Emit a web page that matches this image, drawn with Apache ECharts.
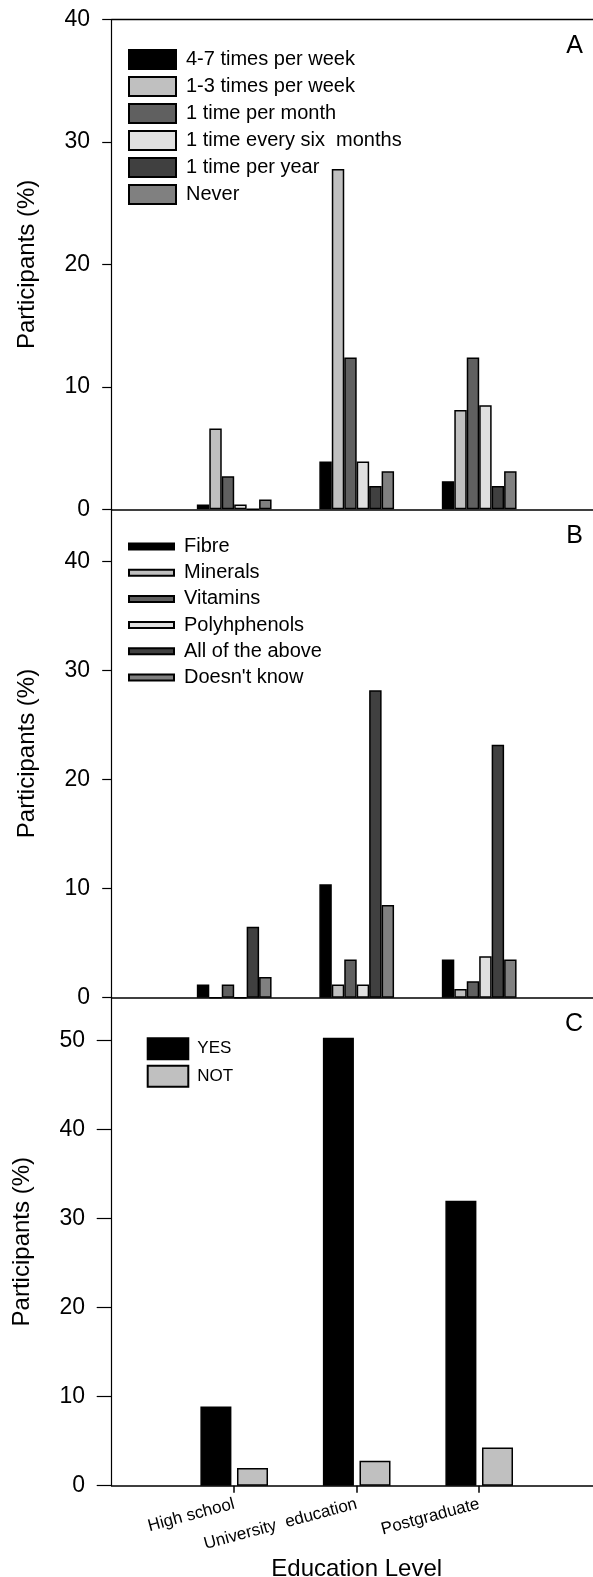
<!DOCTYPE html>
<html>
<head>
<meta charset="utf-8">
<script src="https://cdn.jsdelivr.net/npm/echarts@6/dist/echarts.min.js"></script>
<style>
  html, body { margin: 0; padding: 0; background: #fff; }
  #chart { width: 593px; height: 1577px; }
</style>
</head>
<body>
<div id="chart"></div>
<script>
  // categories on the shared x axis (placed at 1, 2, 3 on a 0..4 scale)
  const categories = ["High school", "University  education", "Postgraduate"];
  const catPos = [1, 2, 3];

  // panel A - frequency of consumption
  const freqNames = ["4-7 times per week", "1-3 times per week", "1 time per month",
    "1 time every six  months", "1 time per year", "Never"];
  const freq47Week = [0.4, 3.9, 2.3];
  const freq13Week = [6.6, 27.8, 8.1];
  const freqMonth = [2.7, 12.4, 12.4];
  const freqSixMonths = [0.4, 3.9, 8.5];
  const freqYear = [0, 1.9, 1.9];
  const freqNever = [0.8, 3.1, 3.1];
  const ticksA = [0, 10, 20, 30, 40];

  // panel B - known components
  const compNames = ["Fibre", "Minerals", "Vitamins", "Polyhphenols", "All of the above", "Doesn't know"];
  const compFibre = [1.2, 10.4, 3.5];
  const compMinerals = [0, 1.2, 0.8];
  const compVitamins = [1.2, 3.5, 1.5];
  const compPoly = [0, 1.2, 3.8];
  const compAll = [6.5, 28.2, 23.2];
  const compDontKnow = [1.9, 8.5, 3.5];
  const ticksB = [0, 10, 20, 30, 40];

  // panel C - yes / not
  const answerNames = ["YES", "NOT"];
  const answerYes = [8.9, 50.3, 32.0];
  const answerNot = [2.0, 2.8, 4.3];
  const ticksC = [0, 10, 20, 30, 40, 50];

  const grays = ["#000000", "#c0c0c0", "#606060", "#e0e0e0", "#404040", "#808080"];
  const font = "Liberation Sans, Arial, sans-serif";

  function bars(name, values, color, idx, catGap, gap) {
    return {
      type: "bar",
      name: name,
      xAxisIndex: idx,
      yAxisIndex: idx,
      data: catPos.map((x, i) => [x, values[i]]),
      barCategoryGap: catGap,
      barGap: gap,
      itemStyle: { color: color, borderColor: "#000", borderWidth: 1.5 },
      emphasis: { disabled: true }
    };
  }

  function bottomAxis(idx) {
    return {
      type: "value",
      gridIndex: idx,
      min: 0,
      max: 4,
      interval: 1,
      splitLine: { show: false },
      axisLine: { show: true, lineStyle: { color: "#000", width: 1.6 } },
      axisTick: { show: false },
      axisLabel: { show: false }
    };
  }

  function leftAxis(idx, max, ticks, tickLen, margin, gap) {
    return {
      type: "value",
      gridIndex: idx,
      min: 0,
      max: max,
      name: "Participants (%)",
      nameLocation: "middle",
      nameGap: gap,
      nameTextStyle: { fontSize: 24, color: "#000", fontFamily: font },
      splitLine: { show: false },
      axisLine: { show: true, lineStyle: { color: "#000", width: 1.2 } },
      axisTick: { show: true, length: tickLen, customValues: ticks, lineStyle: { color: "#000", width: 1.2 } },
      axisLabel: { customValues: ticks, fontSize: 23, color: "#000", fontFamily: font, margin: margin }
    };
  }

  const xAxisC = bottomAxis(2);
  xAxisC.axisTick = { show: true, length: 7, customValues: catPos, lineStyle: { color: "#000", width: 1.5 } };
  xAxisC.axisLabel = {
    show: true,
    customValues: catPos,
    rotate: 15,
    margin: 18,
    fontSize: 17,
    color: "#000",
    fontFamily: font,
    formatter: v => categories[catPos.indexOf(v)] || ""
  };
  xAxisC.name = "Education Level";
  xAxisC.nameLocation = "middle";
  xAxisC.nameGap = 72;
  xAxisC.nameTextStyle = { fontSize: 24, color: "#000", fontFamily: font };

  // top frame line of panel A
  const xAxisTop = bottomAxis(0);
  xAxisTop.position = "top";
  xAxisTop.axisLine.lineStyle.width = 1.4;

  const legendText = size => ({ fontSize: size, color: "#000", fontFamily: font, lineHeight: size, padding: [0, 0, 0, 5] });

  const chart = echarts.init(document.getElementById("chart"), null, { renderer: "canvas" });
  chart.setOption({
    animation: false,
    backgroundColor: "#fff",
    textStyle: { fontFamily: font },
    title: [
      { text: "A", right: 10, top: 34, padding: 0, textStyle: { fontSize: 25, fontWeight: "normal", color: "#000", fontFamily: font } },
      { text: "B", right: 10, top: 524, padding: 0, textStyle: { fontSize: 25, fontWeight: "normal", color: "#000", fontFamily: font } },
      { text: "C", right: 10, top: 1012, padding: 0, textStyle: { fontSize: 25, fontWeight: "normal", color: "#000", fontFamily: font } }
    ],
    grid: [
      { left: 111.7, right: -8.7, top: 19.5, height: 489.8, outerBoundsMode: "none" },
      { left: 111.7, right: -8.7, top: 509.3, height: 488.4, outerBoundsMode: "none" },
      { left: 111.7, right: -8.7, top: 997.7, height: 488, outerBoundsMode: "none" }
    ],
    legend: [
      {
        data: freqNames, orient: "vertical", left: 128, top: 49, padding: 0,
        itemWidth: 47, itemHeight: 19, itemGap: 6, icon: "rect",
        textStyle: legendText(20), selectedMode: false
      },
      {
        data: compNames, orient: "vertical", left: 128, top: 536.5, padding: 0,
        itemWidth: 45, itemHeight: 6, itemGap: 6.2, icon: "rect",
        textStyle: legendText(20), selectedMode: false
      },
      {
        data: answerNames, orient: "vertical", left: 146.7, top: 1037.3, padding: 0,
        itemWidth: 40.6, itemHeight: 21, itemGap: 4.5, icon: "rect",
        textStyle: Object.assign(legendText(17), { lineHeight: 21, padding: [0, 0, 0, 4] }), selectedMode: false
      }
    ],
    xAxis: [bottomAxis(0), bottomAxis(1), xAxisC, xAxisTop],
    yAxis: [
      leftAxis(0, 40, ticksA, 9.5, 21.7, 72),
      leftAxis(1, 44.8, ticksB, 9.5, 21.7, 72),
      leftAxis(2, 54.8, ticksC, 15, 26.7, 77)
    ],
    series: [
      bars(freqNames[0], freq47Week, grays[0], 0, "39%", "0%"),
      bars(freqNames[1], freq13Week, grays[1], 0, "39%", "0%"),
      bars(freqNames[2], freqMonth, grays[2], 0, "39%", "0%"),
      bars(freqNames[3], freqSixMonths, grays[3], 0, "39%", "0%"),
      bars(freqNames[4], freqYear, grays[4], 0, "39%", "0%"),
      bars(freqNames[5], freqNever, grays[5], 0, "39%", "0%"),

      bars(compNames[0], compFibre, grays[0], 1, "39%", "0%"),
      bars(compNames[1], compMinerals, grays[1], 1, "39%", "0%"),
      bars(compNames[2], compVitamins, grays[2], 1, "39%", "0%"),
      bars(compNames[3], compPoly, grays[3], 1, "39%", "0%"),
      bars(compNames[4], compAll, grays[4], 1, "39%", "0%"),
      bars(compNames[5], compDontKnow, grays[5], 1, "39%", "0%"),

      bars(answerNames[0], answerYes, grays[0], 2, "44.8%", "18%"),
      bars(answerNames[1], answerNot, grays[1], 2, "44.8%", "18%")
    ]
  });
</script>
</body>
</html>
